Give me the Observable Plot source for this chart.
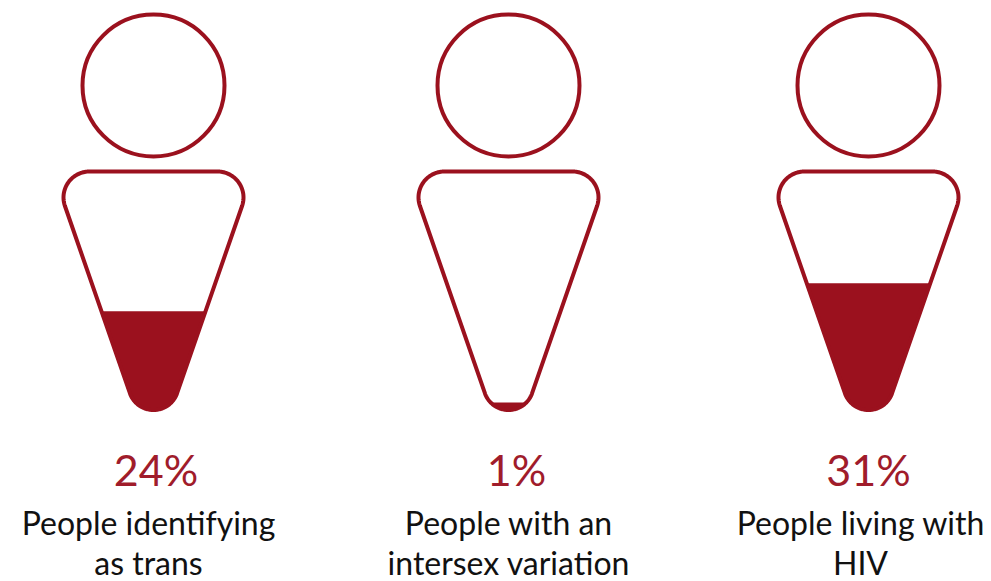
<!DOCTYPE html>
<html>
<head>
<meta charset="utf-8">
<script src="https://cdn.jsdelivr.net/npm/d3@7"></script>
<script src="https://cdn.jsdelivr.net/npm/@observablehq/plot@0.6"></script>
<style>
  html, body { margin: 0; padding: 0; background: #fff; }
</style>
</head>
<body>
<div id="chart"></div>
<script>
// Share of respondents in each group
const groups = ["trans", "intersex", "hiv"];
const percents = [24, 1, 31];
const captions = [
  "People identifying\nas trans",
  "People with an\nintersex variation",
  "People living with\nHIV"
];

// Horizontal centres of each figure and of its two labels
const centres = [153, 508, 868];
const percentCentres = [155.5, 516, 868];
const captionCentres = [148, 508, 860];

const RED = "#9b111e";
const STROKE = 4;

// Figure geometry
const HEAD_Y = 85, HEAD_R = 71;
const BODY_TOP = 171, BODY_BOTTOM = 409.5, BODY_HALF = 90;
const CORNER_R = 26, TIP_R = 25;

// The body is tapered, so the liquid level rises faster than the percentage
const gauge = d3.scaleLinear()
  .domain([0, 1, 24, 31, 100])
  .range([0, 0.031, 0.414, 0.531, 1]);

// Outline of the body: a rounded taper, clockwise from the top centre,
// as offsets from the figure's centre line
function bodyOutline() {
  const c1 = [BODY_HALF - CORNER_R, BODY_TOP + CORNER_R];
  const c2 = [0, BODY_BOTTOM - TIP_R];
  const dx = c1[0] - c2[0], dy = c1[1] - c2[1];
  const len = Math.hypot(dx, dy);
  // Angle of the outward normal shared by both tangent points
  const a = Math.atan2(dy, dx) + Math.acos((CORNER_R - TIP_R) / len);
  const arc = (c, r, from, to) => d3.range(0, 41).map(i => {
    const t = from + (to - from) * i / 40;
    return [c[0] + r * Math.cos(t), c[1] + r * Math.sin(t)];
  });
  const right = [
    ...arc(c1, CORNER_R, -Math.PI / 2, a),
    ...arc(c2, TIP_R, a, Math.PI / 2)
  ];
  const left = right.slice().reverse().map(([x, y]) => [-x, y]);
  return [...right, ...left];
}

const outline = bodyOutline();

// The part of the outline below the liquid level, closed along the surface
function liquidOutline(level) {
  const surface = BODY_BOTTOM - (BODY_BOTTOM - BODY_TOP) * level;
  const kept = outline.filter(p => p[1] >= surface);
  const half = outline.slice(0, outline.length / 2);
  const i = half.findIndex(p => p[1] >= surface);
  const [p, q] = [half[Math.max(i - 1, 0)], half[i]];
  const t = q[1] === p[1] ? 0 : (surface - p[1]) / (q[1] - p[1]);
  const edge = p[0] + (q[0] - p[0]) * t;
  return [[edge, surface], ...kept, [-edge, surface]];
}

const figures = groups.map((group, i) => ({
  group,
  x: centres[i],
  percentX: percentCentres[i],
  captionX: captionCentres[i],
  percent: percents[i],
  caption: captions[i]
}));

const bodyPoints = figures.flatMap(f =>
  [...outline, outline[0]].map(([x, y]) => ({group: f.group, x: f.x + x, y}))
);
const liquidPoints = figures.flatMap(f =>
  liquidOutline(gauge(f.percent)).map(([x, y]) => ({group: f.group, x: f.x + x, y}))
);

const chart = Plot.plot({
  width: 991,
  height: 581,
  margin: 0,
  style: {background: "#fff"},
  x: {axis: null, domain: [0, 991], range: [0, 991]},
  y: {axis: null, domain: [0, 581], range: [0, 581]},
  marks: [
    Plot.dot(figures, {
      x: "x", y: () => HEAD_Y, r: HEAD_R,
      stroke: RED, strokeWidth: STROKE, fill: "#fff"
    }),
    Plot.line(liquidPoints, {
      x: "x", y: "y", z: "group", fill: RED, stroke: RED, strokeWidth: 1
    }),
    Plot.line(bodyPoints, {
      x: "x", y: "y", z: "group", stroke: RED, strokeWidth: STROKE, fill: "none"
    }),
    Plot.text(figures, {
      x: "percentX", y: () => 472,
      text: f => `${f.percent}%`,
      fill: "#a01c2b", fontSize: 43,
      fontFamily: "Lato", textAnchor: "middle"
    }),
    Plot.text(figures, {
      x: "captionX", y: () => 542,
      text: "caption",
      fill: "#111", fontSize: 32, lineHeight: 1.25,
      fontFamily: "Lato", textAnchor: "middle"
    })
  ]
});

document.getElementById("chart").appendChild(chart);
</script>
</body>
</html>
